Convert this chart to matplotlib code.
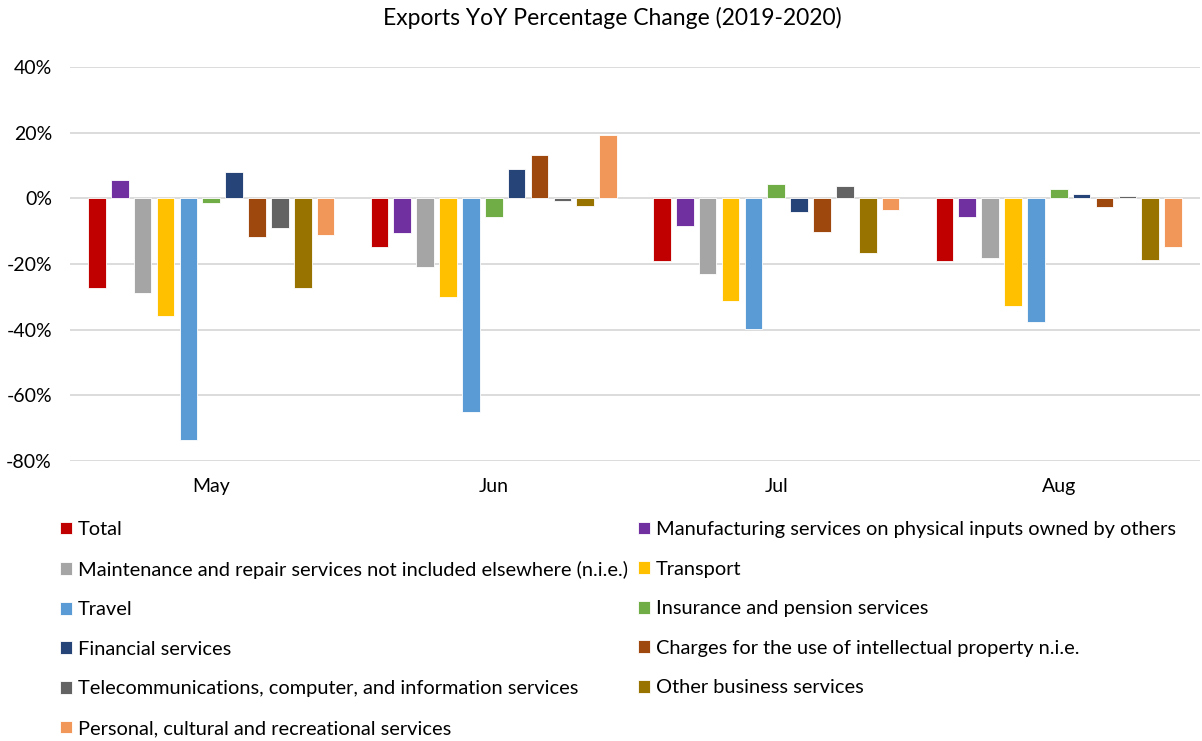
import numpy as np
import matplotlib.pyplot as plt
from matplotlib.ticker import FuncFormatter

months = ['May', 'Jun', 'Jul', 'Aug']

series = [
    'Total',
    'Manufacturing services on physical inputs owned by others',
    'Maintenance and repair services not included elsewhere (n.i.e.)',
    'Transport',
    'Travel',
    'Insurance and pension services',
    'Financial services',
    'Charges for the use of intellectual property n.i.e.',
    'Telecommunications, computer, and information services',
    'Other business services',
    'Personal, cultural and recreational services',
]

# YoY % change per series, one value per month (May, Jun, Jul, Aug)
total = [-27.4, -14.9, -19.0, -19.0]
manufacturing = [5.6, -10.6, -8.3, -5.6]
maintenance = [-28.7, -20.8, -22.9, -18.3]
transport = [-35.9, -29.9, -31.3, -32.9]
travel = [-73.6, -65.0, -39.8, -37.8]
insurance = [-1.5, -5.8, 4.3, 2.8]
financial = [7.9, 8.8, -4.3, 1.3]
charges = [-11.9, 13.3, -10.3, -2.7]
telecom = [-9.1, -0.8, 3.8, 0.7]
other_business = [-27.4, -2.2, -16.8, -18.9]
personal = [-11.1, 19.4, -3.7, -14.7]

values = [total, manufacturing, maintenance, transport, travel, insurance,
          financial, charges, telecom, other_business, personal]

colors = ['#C00000', '#7030A0', '#A5A5A5', '#FFC000', '#5B9BD5', '#70AD47',
          '#264478', '#9E480E', '#636363', '#997300', '#F1975A']

plt.rcParams['font.family'] = ['Lato', 'DejaVu Sans']

fig = plt.figure(figsize=(12.02, 7.41), dpi=100)
ax = fig.add_axes([70 / 1202, 1 - 461 / 741, 1130 / 1202, 394 / 741])

x = np.arange(len(months))
pitch = 0.081
width = 0.0625
handles = []
for i, (vals, c) in enumerate(zip(values, colors)):
    offs = (i - (len(values) - 1) / 2) * pitch
    b = ax.bar(x + offs, vals, width, color=c, edgecolor='white',
               linewidth=0.6, label=series[i], zorder=3)
    handles.append(b)

ax.set_xlim(-0.5, len(months) - 0.5)
ax.set_ylim(-80, 40)
ax.set_yticks(np.arange(-80, 41, 20))
ax.yaxis.set_major_formatter(FuncFormatter(lambda v, p: f'{v:.0f}%'))
ax.set_xticks(x)
ax.set_xticklabels(months)
ax.grid(axis='y', color='#D9D9D9', linewidth=1.3, zorder=0)
for s in ax.spines.values():
    s.set_visible(False)
ax.tick_params(length=0, labelsize=14, colors='#000000')
ax.tick_params(axis='y', pad=13)
ax.tick_params(axis='x', pad=12)

fig.text(612 / 1202, 1 - 18 / 741, 'Exports YoY Percentage Change (2019-2020)',
         ha='center', va='center', fontsize=16.5)

# Excel fills legend row by row; matplotlib fills columns first
order = [0, 2, 4, 6, 8, 10, 1, 3, 5, 7, 9]
fig.legend([handles[i] for i in order], [series[i] for i in order],
           ncol=2, loc='upper left', bbox_to_anchor=(52 / 1202, 1 - 513 / 741),
           frameon=False, fontsize=14.4, handlelength=0.6, handleheight=0.6,
           handletextpad=0.3, columnspacing=0.5, labelspacing=1.13,
           borderaxespad=0)

fig.savefig('out.png', dpi=100)
